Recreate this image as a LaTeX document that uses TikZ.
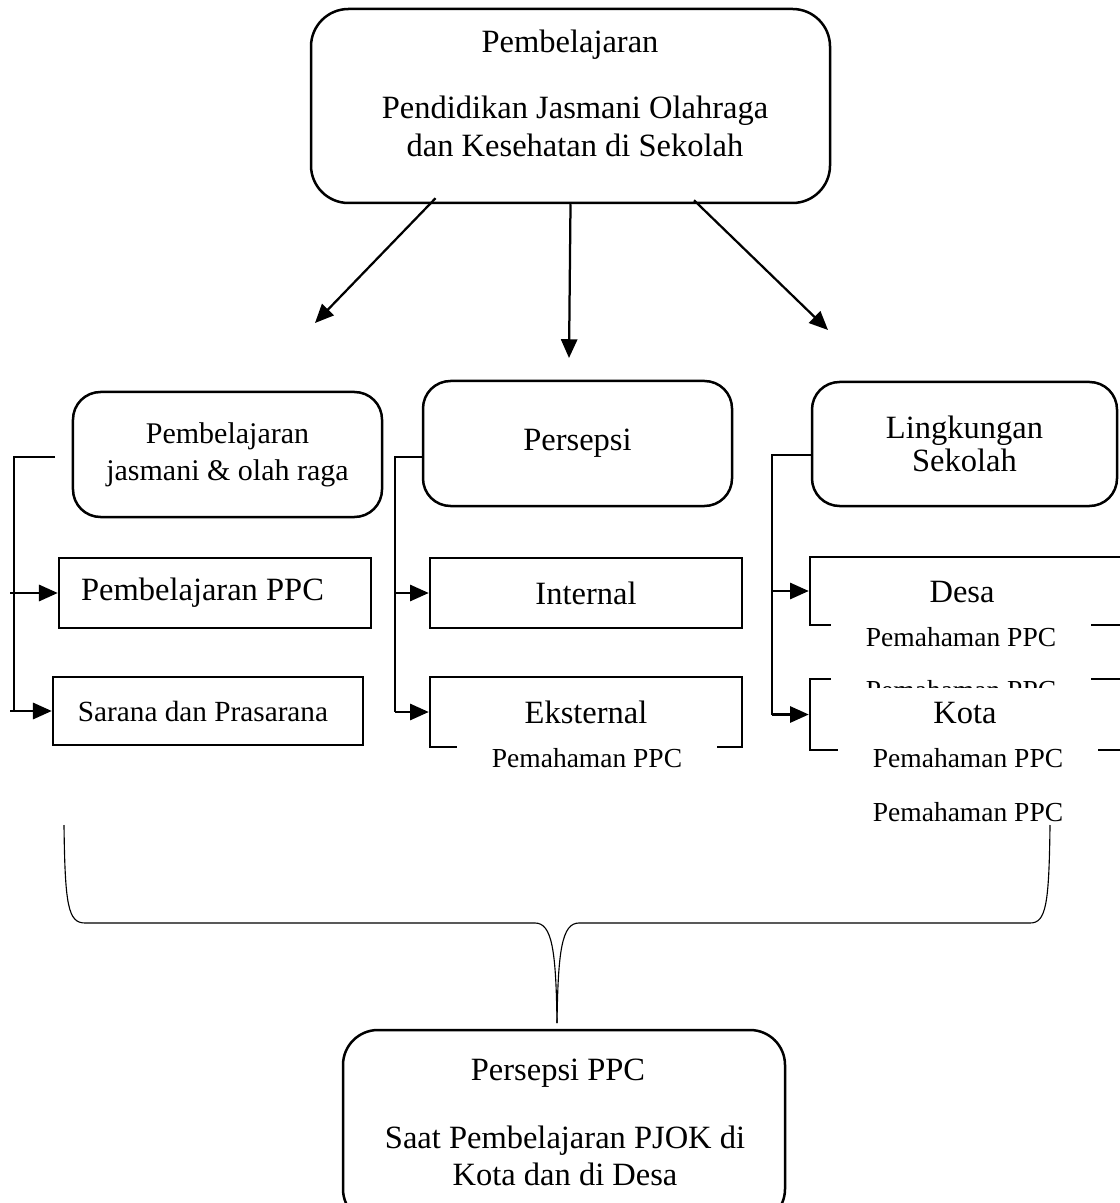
\documentclass[tikz,border=0pt]{standalone}
\usepackage{fontspec}
\setmainfont{Liberation Serif}
\usetikzlibrary{arrows.meta}

\begin{document}
\begin{tikzpicture}[x=0.4pt, y=-0.4pt,
  rbox/.style={draw, line width=1pt, rounded corners=11pt, fill=white, inner sep=0pt},
  sbox/.style={draw, line width=1pt, fill=white, inner sep=0pt},
  lbl/.style={align=center, font=\fontsize{13}{15.2}\selectfont},
  note/.style={fill=white, inner xsep=14pt, inner ysep=3pt, font=\fontsize{11}{13}\selectfont},
  arr/.style={line width=0.9pt, -{Triangle[length=7.5pt,width=6.5pt]}},
  link/.style={line width=0.45pt}]

\useasboundingbox (0,0) rectangle (1119,1203);

% Top box
\node[rbox, rounded corners=15pt, minimum width=207.6pt, minimum height=77.6pt] (top) at (570.5,106) {};
\node[lbl] (topA) at (570,45) {Pembelajaran};
\node[lbl] (topB) at (575,126) {Pendidikan Jasmani Olahraga\\dan Kesehatan di Sekolah};

% Arrows to the three groups
\coordinate (endL) at (315,323);
\coordinate (endM) at (569,358);
\coordinate (endR) at (828,330);
\draw[arr] ([xshift=-54pt,yshift=2.4pt]top.south) -- (endL);
\draw[arr] (top.south) -- (endM);
\draw[arr] ([xshift=49.4pt,yshift=1.6pt]top.south) -- (endR);

% Group heads
\node[rbox, minimum width=123.6pt, minimum height=50pt, lbl, font=\fontsize{12}{14.8}\selectfont] (jas) at (227.5,454.5) {Pembelajaran\\jasmani \& olah raga};
\node[rbox, minimum width=123.6pt, minimum height=50pt, lbl] (per) at (577.5,443.5) {Persepsi};
\node[rbox, minimum width=122pt, minimum height=49.6pt, lbl, font=\fontsize{13}{13.2}\selectfont] (lin) at (964.5,444) {Lingkungan\\Sekolah};

% Left group
\node[sbox, minimum width=124.8pt, minimum height=28pt, lbl] (ppc) at (215,593) {Pembelajaran PPC\hspace{10pt}};
\node[sbox, minimum width=124pt, minimum height=27.2pt, lbl, font=\fontsize{11.7}{14}\selectfont] (sar) at (208,711) {Sarana dan Prasarana\hspace{4pt}};

% Middle group
\node[sbox, minimum width=124.8pt, minimum height=28pt, lbl] (int) at (586,593) {Internal};
\node[sbox, minimum width=124.8pt, minimum height=28pt, lbl] (eks) at (586,712) {Eksternal};
\node[note] (eksN) at (587,758) {Pemahaman PPC};

% Right group
\node[sbox, minimum width=128pt, minimum height=27.2pt] (desa) at (970,591) {};
\node[lbl] (desaT) at (962,592) {Desa};
\node[note] (desaN) at (961,637) {Pemahaman PPC};
\node[sbox, minimum width=128pt, minimum height=28.4pt] (kota) at (970,714.5) {};
\node[note] (kotaH) at (961,690) {Pemahaman PPC};
\node[lbl, fill=white, minimum width=100pt, minimum height=20pt] (kotaT) at (965,713) {Kota};
\node[note] (kotaN) at (968,758) {Pemahaman PPC};
\node[font=\fontsize{11}{13}\selectfont] (kotaM) at (968,812) {Pemahaman PPC};

% Links
\coordinate (jasS) at (55,457);
\coordinate (tA) at (14,457);
\draw[link] (jasS) -- (tA) -- (tA |- sar.west);
\draw[arr] ([xshift=-1.6pt]tA |- ppc.west) -- (ppc.west);
\draw[arr] ([xshift=-1.6pt]tA |- sar.west) -- (sar.west);

\coordinate (tB) at (395,457);
\draw[link] (tB -| per.west) -- (tB) -- (tB |- eks.west);
\draw[arr] (tB |- int.west) -- (int.west);
\draw[arr] (tB |- eks.west) -- (eks.west);

\coordinate (tC) at (772,455);
\draw[link] (tC -| lin.west) -- (tC) -- (tC |- kota.west);
\draw[arr] (tC |- desa.west) -- (desa.west);
\draw[arr] (tC |- kota.west) -- (kota.west);

% Brace
\coordinate (brL) at (64,825);
\coordinate (brR) at (1050,825);
\coordinate (brT) at (557,1023);
\draw[link] (brL) .. controls (65,905) and (68,923) .. (85,923) -- (535,923) .. controls (552,923) and (556,950) .. (brT);
\draw[link] (brT) .. controls (558,950) and (562,923) .. (579,923) -- (1030,923) .. controls (1046,923) and (1049,905) .. (brR);

% Bottom box
\node[rbox, rounded corners=14pt, minimum width=176.8pt, minimum height=77.6pt] (bot) at (564,1127) {};
\node[lbl] (botA) at (558,1073) {Persepsi PPC};
\node[lbl, font=\fontsize{13}{14.8}\selectfont] (botB) at (565,1156) {Saat Pembelajaran PJOK di\\Kota dan di Desa};

\end{tikzpicture}
\end{document}
